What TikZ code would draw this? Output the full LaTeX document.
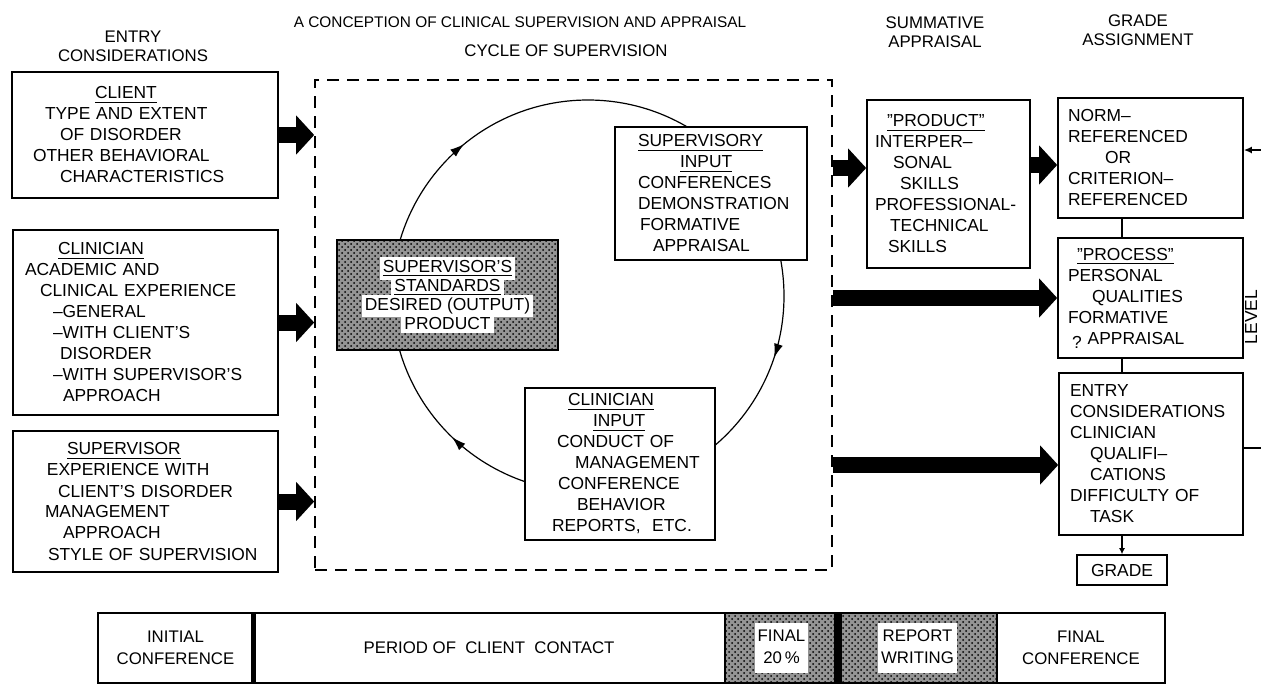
\documentclass[tikz,border=0pt]{standalone}
\usepackage{fontspec}
\setmainfont{Liberation Sans}
\usetikzlibrary{arrows.meta,patterns,positioning,decorations.markings}

\newcommand{\lettering}{\fontsize{8.7}{10.5}\selectfont}
\newcommand{\ind}[1]{\hspace*{#1pt}}
\newcommand{\wbox}[1]{\colorbox{white}{#1}}

\tikzset{
  box/.style 2 args={draw, fill=white, line width=0.8pt, align=left, font=\lettering,
    inner xsep=4pt, inner ysep=0pt, text width=#1, minimum height=#2},
  head/.style={font=\fontsize{8.4}{9.5}\selectfont, align=center},
  screen/.style={fill=black!42, postaction={pattern=crosshatch dots, pattern color=black}},
  cell/.style={draw, line width=0.8pt, minimum height=35pt, font=\fontsize{8.4}{11}\selectfont,
    align=center, inner sep=0pt, outer sep=0pt},
  fatarrow/.style={line width=8pt, -{Triangle[length=9pt,width=19pt]}},
  cyc/.style={line width=0.6pt, decoration={markings,
      mark=at position 0.359 with {\arrowreversed{Latex[length=7pt,width=4.5pt]}},
      mark=at position 0.628 with {\arrowreversed{Latex[length=7pt,width=4.5pt]}},
      mark=at position 0.949 with {\arrowreversed{Latex[length=7pt,width=4.5pt]}}},
    postaction={decorate}}
}

\begin{document}
\begin{tikzpicture}[x=0.5pt,y=-0.5pt]
	\useasboundingbox (0,0) rectangle (1261,685);

	\node[head] (entryhead) at (133,46) {ENTRY\\CONSIDERATIONS};
	\node[font=\fontsize{7.7}{9}\selectfont] (title) at (520,22) {A CONCEPTION OF CLINICAL SUPERVISION AND APPRAISAL};
	\node[head] (cyclehead) at (566,51) {CYCLE OF SUPERVISION};
	\node[head] (sumhead) at (935,32) {SUMMATIVE\\APPRAISAL};
	\node[head] (gradehead) at (1138,30) {GRADE\\ASSIGNMENT};

	% entry considerations
	\node[box={125pt}{63pt}] (client) at (145,135)
		{\ind{37.5}\underline{CLIENT}\\ \ind{12.5}TYPE AND EXTENT\\ \ind{20}OF DISORDER\\ \ind{6.5}OTHER BEHAVIORAL\\ \ind{20}CHARACTERISTICS};
	\node[box={124.5pt}{92.5pt}] (clinician) at (145.5,322.5)
		{\ind{18.5}\underline{CLINICIAN}\\ \ind{2}ACADEMIC AND\\ \ind{9.5}CLINICAL EXPERIENCE\\ \ind{16}--GENERAL\\ \ind{16}--WITH CLIENT'S\\ \ind{19.5}DISORDER\\ \ind{16}--WITH SUPERVISOR'S\\ \ind{21}APPROACH};
	\node[box={124.5pt}{70.5pt}] (supervisor) at (145.5,501.5)
		{\ind{23}\underline{SUPERVISOR}\\ \ind{13}EXPERIENCE WITH\\ \ind{18.5}CLIENT'S DISORDER\\ \ind{12}MANAGEMENT\\ \ind{21}APPROACH\\ \ind{13.5}STYLE OF SUPERVISION};

	% cycle of supervision
	\node[draw, line width=0.8pt, dash pattern=on 6pt off 4pt, minimum width=258.5pt, minimum height=245pt] (cyclebox) at (573.5,325) {};
	\coordinate (hub) at (588,296);
	\draw[cyc] (hub) circle[radius=98pt];
	\node[draw, line width=0.8pt, screen, minimum width=110.5pt, minimum height=55pt, align=center,
		font={\fontsize{8.7}{9.4}\selectfont\lineskiplimit=-5pt\setlength{\fboxsep}{1.6pt}}] (standards) at (447.5,295)
		{\wbox{\underline{SUPERVISOR'S}}\\ \wbox{\underline{STANDARDS}}\\ \wbox{DESIRED (OUTPUT)}\\ \wbox{PRODUCT}};
	\node[box={88pt}{66.5pt}] (supin) at (711,193.5)
		{\ind{7.5}\underline{SUPERVISORY}\\ \ind{28.5}\underline{INPUT}\\ \ind{7.5}CONFERENCES\\ \ind{7.5}DEMONSTRATION\\ \ind{8.5}FORMATIVE\\ \ind{15}APPRAISAL};
	\node[box={87pt}{76pt}] (clinin) at (620,464)
		{\ind{17.5}\underline{CLINICIAN}\\ \ind{30}\underline{INPUT}\\ \ind{12}CONDUCT OF\\ \ind{21}MANAGEMENT\\ \ind{12.5}CONFERENCE\\ \ind{22}BEHAVIOR\\ \ind{9.5}REPORTS,\ \ ETC.};

	% summative appraisal and grade
	\node[box={73.5pt}{84pt}] (product) at (948.5,184)
		{\ind{6}\underline{"PRODUCT"}\\ INTERPER--\\ \ind{9}SONAL\\ \ind{12.5}SKILLS\\ PROFESSIONAL-\\ \ind{7.5}TECHNICAL\\ \ind{6.5}SKILLS};
	\node[box={84.5pt}{60pt}] (norm) at (1150.5,158)
		{\ind{1}NORM--\\ \ind{1}REFERENCED\\ \ind{19.5}OR\\ \ind{1}CRITERION--\\ \ind{1}REFERENCED};
	\node[box={84.5pt}{60pt}] (process) at (1150.5,298)
		{\ind{5.5}\underline{"PROCESS"}\\ \ind{1}PERSONAL\\ \ind{13}QUALITIES\\ \ind{1}FORMATIVE\\ \ind{3}\raisebox{-2pt}{?}\ind{3}APPRAISAL};
	\node[box={84pt}{81pt}] (entry) at (1151,454)
		{\ind{1.5}ENTRY\\ \ind{1.5}CONSIDERATIONS\\ \ind{1.5}CLINICIAN\\ \ind{11.5}QUALIFI--\\ \ind{11.5}CATIONS\\ \ind{1.5}DIFFICULTY OF\\ \ind{11.5}TASK};
	\node[draw, fill=white, line width=0.8pt, font=\lettering, minimum width=45pt, minimum height=15pt, inner sep=0pt] (grade) at (1122,570) {GRADE};
	\node[rotate=90, font=\lettering, inner sep=1pt] (level) at (1251,317) {LEVEL};

	\foreach \src in {client,clinician,supervisor}
		\draw[fatarrow] (\src.east) -- (\src.east -| cyclebox.west);
	\coordinate (prodin) at ([yshift=8pt]product.west);
	\coordinate (normin) at ([yshift=-3.5pt]norm.west);
	\coordinate (entryin) at ([yshift=-5.5pt]entry.west);
	\draw[fatarrow] (cyclebox.east |- prodin) -- (prodin);
	\draw[fatarrow] (product.east |- normin) -- (normin);
	\draw[fatarrow] (cyclebox.east |- process.west) -- (process.west);
	\draw[fatarrow] (cyclebox.east |- entryin) -- (entryin);

	\draw[line width=0.8pt] (norm.south -| grade) -- (process.north -| grade);
	\draw[line width=0.8pt] (process.south -| grade) -- (entry.north -| grade);
	\draw[line width=0.8pt, -{Latex[length=3pt,width=3pt]}] (entry.south -| grade) -- (grade.north);
	\coordinate (rimA) at (1261,150);
	\coordinate (rimB) at (1261,448);
	\draw[line width=0.8pt, -{Latex[length=4pt,width=3.5pt]}] (rimA) -- (rimA -| norm.east);
	\draw[line width=0.8pt] (entry.east |- rimB) -- (rimB);

	% time line
	\node[cell, minimum width=77.5pt] (initial) at (175.5,648) {INITIAL\\CONFERENCE};
	\node[cell, minimum width=236pt, right=0pt of initial] (period) {PERIOD OF\ \ CLIENT\ \ CONTACT};
	\node[cell, screen, minimum width=56.5pt, right=0pt of period] (final20)
		{\setlength{\fboxsep}{1.5pt}\wbox{\begin{tabular}{@{}c@{}}FINAL\\20\,\%\end{tabular}}};
	\node[cell, screen, minimum width=79.5pt, right=0pt of final20] (report)
		{\setlength{\fboxsep}{1.5pt}\wbox{\begin{tabular}{@{}c@{}}REPORT\\WRITING\end{tabular}}};
	\node[cell, minimum width=84pt, right=0pt of report] (finalconf) {FINAL\\CONFERENCE};
	\draw[line width=2.5pt] (initial.north east) -- (initial.south east);
	\draw[line width=4pt] (final20.north east) -- (final20.south east);
\end{tikzpicture}
\end{document}
